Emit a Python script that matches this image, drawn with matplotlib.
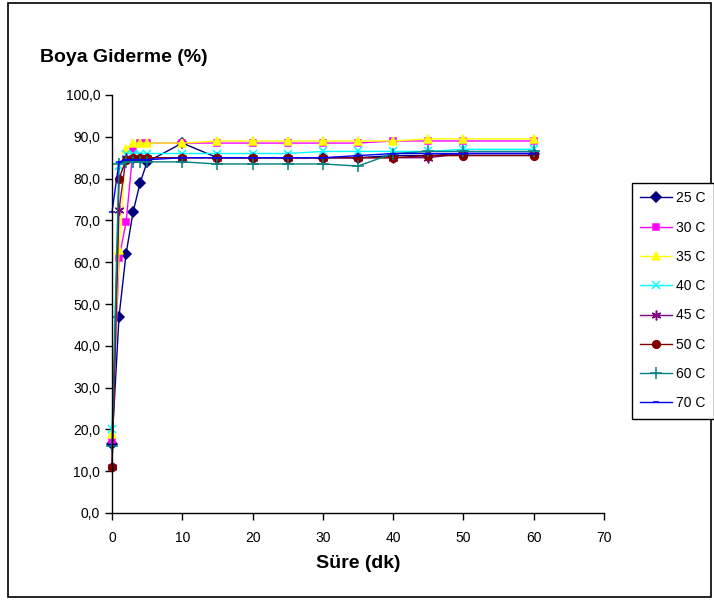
import numpy as np
import matplotlib
matplotlib.use("Agg")
import matplotlib.pyplot as plt
from matplotlib.ticker import FuncFormatter
from matplotlib.patches import Rectangle

plt.rcParams['font.family'] = ['Liberation Sans', 'DejaVu Sans']

# Time (minutes)
time_min = [0, 1, 2, 3, 4, 5, 10, 15, 20, 25, 30, 35, 40, 45, 50, 60]

# Dye removal (%) per temperature
t25 = [16.5, 47.0, 62.0, 72.0, 79.0, 84.0, 88.5, 85.0, 85.0, 85.0, 85.0, 85.0, 85.5, 85.5, 86.0, 86.0]
t30 = [17.5, 61.0, 69.5, 87.0, 88.5, 88.5, 88.5, 88.5, 88.5, 88.5, 88.5, 88.5, 89.0, 89.0, 89.0, 89.0]
t35 = [19.0, 63.0, 87.0, 88.5, 88.5, 88.5, 88.5, 89.0, 89.0, 89.0, 89.0, 89.0, 89.0, 89.5, 89.5, 89.5]
t40 = [20.0, 83.0, 86.0, 86.0, 86.0, 86.0, 86.0, 86.0, 86.0, 86.0, 86.5, 86.5, 86.5, 86.5, 87.0, 87.0]
t45 = [11.0, 72.5, 85.0, 85.0, 85.0, 85.0, 85.0, 85.0, 85.0, 85.0, 85.0, 85.0, 85.0, 85.0, 86.0, 86.0]
t50 = [11.0, 80.0, 84.5, 85.0, 85.0, 85.0, 85.0, 85.0, 85.0, 85.0, 85.0, 85.0, 85.0, 85.5, 85.5, 85.5]
t60 = [16.0, 83.5, 84.0, 84.0, 84.0, 84.0, 84.0, 83.5, 83.5, 83.5, 83.5, 83.0, 86.0, 86.5, 86.5, 86.5]
t70 = [72.0, 84.0, 84.5, 84.5, 84.5, 84.5, 85.0, 85.0, 85.0, 85.0, 85.0, 85.5, 86.0, 86.0, 86.0, 86.0]

labels = ['25 C', '30 C', '35 C', '40 C', '45 C', '50 C', '60 C', '70 C']
series = [t25, t30, t35, t40, t45, t50, t60, t70]
colors = ['#000080', '#FF00FF', '#FFFF00', '#00FFFF', '#800080', '#800000', '#008080', '#0000FF']
markers = ['D', 's', '^', 'x', (6, 2, 0), 'o', '+', '_']
msizes = [5, 5, 6, 6, 7, 5.5, 8, 5]

fig = plt.figure(figsize=(7.14, 6.01), dpi=100)
ax = fig.add_axes([112 / 714, 1 - 513 / 601, (604 - 112) / 714, (513 - 95) / 601])

for y, lab, c, m, ms in zip(series, labels, colors, markers, msizes):
    ax.plot(time_min, y, color=c, marker=m, markersize=ms, linewidth=1.0,
            markeredgewidth=1.1, label=lab, clip_on=False)

ax.set_xlim(0, 70)
ax.set_ylim(0, 100)
ax.set_xticks(np.arange(0, 71, 10))
ax.set_yticks(np.arange(0, 101, 10))
ax.yaxis.set_major_formatter(FuncFormatter(lambda v, p: f"{v:.1f}".replace('.', ',')))
ax.spines['top'].set_visible(False)
ax.spines['right'].set_visible(False)
for s in ['left', 'bottom']:
    ax.spines[s].set_linewidth(1.0)
ax.tick_params(axis='both', direction='out', length=5, width=1, labelsize=10)
ax.tick_params(axis='x', pad=8)

ax.set_xlabel('Süre (dk)', fontsize=14, fontweight='bold', labelpad=7)
fig.text(40 / 714, 1 - 58 / 601, 'Boya Giderme (%)', fontsize=14, fontweight='bold',
         va='center', ha='left')

leg = fig.legend(loc='upper left', bbox_to_anchor=(632 / 714, 1 - 183 / 601), borderaxespad=0,
                 fancybox=False, framealpha=1, edgecolor='black', fontsize=10,
                 handlelength=2.3, labelspacing=1.1, borderpad=0.6, handletextpad=0.3)
leg.get_frame().set_linewidth(1.0)

fig.patches.append(Rectangle((8 / 714, 4 / 601), 703 / 714, 594 / 601, transform=fig.transFigure,
                             fill=False, edgecolor='black', linewidth=1.2))

fig.savefig('out.png', dpi=100)
